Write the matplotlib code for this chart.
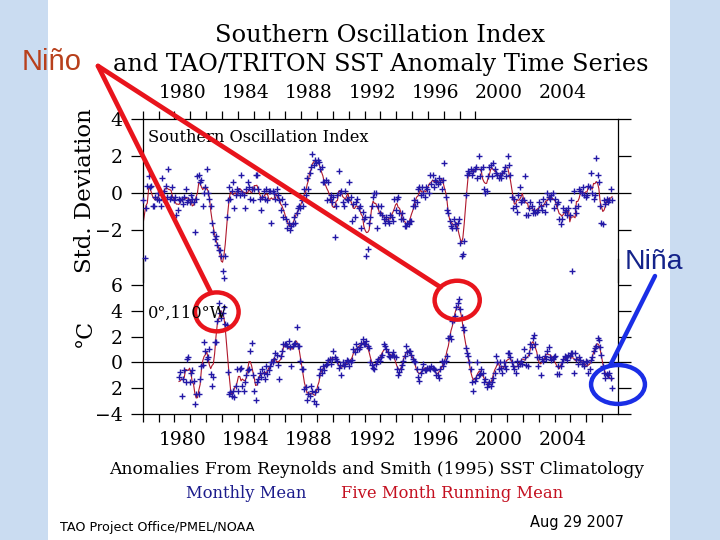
import numpy as np
import pandas as pd
import matplotlib
matplotlib.use('Agg')
import matplotlib.pyplot as plt
from matplotlib.patches import Ellipse, Rectangle, ConnectionPatch

# ---- data: monthly values ----
soi_start = 1978  # Jan 1978 .. Aug 2007, std. deviation
soi_by_year = [
    [-0.4, -3.5, -0.8, 0.4, 0.9, 0.3, 0.4, -0.7, -0.7, -0.2, -0.3, 0.0],     # 1978
    [-0.4, -0.7, 0.8, -0.3, 0.1, 0.4, -0.2, 1.3, -0.3, -0.2, 0.3, -0.4],     # 1979
    [-0.2, -1.2, -0.9, -0.3, -0.4, -0.3, -0.6, -0.2, 0.2, -0.5, -0.4, -0.5],  # 1980
    [-0.1, -0.3, -0.5, -2.1, -0.3, 0.9, 1.0, 0.6, 0.7, -0.7, 0.0, 0.3],      # 1981
    [1.3, 0.0, -0.3, -0.7, -1.6, -2.1, -2.5, -2.3, -2.8, -3.1, -3.1, -3.4],  # 1982
    [-4.2, -4.6, -3.4, -1.3, -0.4, 0.3, -0.3, 0.1, 0.6, -0.8, -0.1, 0.2],    # 1983
    [0.1, -0.1, 1.0, 0.0, -0.1, -0.8, 0.2, 0.6, 0.3, -0.3, 0.2, -0.4],       # 1984
    [0.2, 1.0, 1.0, 0.2, -0.3, -0.9, -0.2, 0.1, -0.3, 0.2, -0.4, 0.1],       # 1985
    [0.1, -1.6, 0.1, 0.0, -0.3, 0.2, -0.1, -0.4, -0.9, -0.3, -1.3, -0.6],    # 1986
    [-1.4, -1.9, -1.6, -2.0, -1.8, -1.7, -1.3, -1.6, -1.1, -0.8, -0.7, -0.8],  # 1987
    [-0.4, -0.7, 0.2, -0.1, 0.8, 0.2, 1.1, 1.4, 2.1, 1.5, 1.8, 1.6],         # 1988
    [1.8, 1.7, 1.3, 1.4, 0.6, 0.6, 0.7, -0.4, 0.6, -0.3, -0.1, -0.5],        # 1989
    [-0.2, -2.4, -0.7, -0.1, 1.2, 0.0, 0.1, -0.5, -0.7, 0.1, -0.3, -0.4],    # 1990
    [0.6, -0.2, -1.5, -0.6, -1.3, -0.5, -0.3, -0.8, -0.7, -1.9, -1.0, -1.4],  # 1991
    [-1.3, -3.4, -3.0, -1.6, -1.3, -0.7, -0.2, 0.0, 0.0, -1.9, -0.7, -1.1],   # 1992
    [-0.7, -1.2, -1.4, -1.6, -1.3, -1.5, -1.6, -1.2, -1.3, -1.5, -0.3, -0.9],  # 1993
    [-0.3, -0.2, -1.1, -1.4, -1.1, -1.4, -1.8, -1.8, -1.6, -1.7, -1.5, -1.5],  # 1994
    [-0.7, -0.4, -0.7, -0.5, 0.2, 0.3, -0.1, 0.3, 0.0, -0.2, 0.3, 0.2],      # 1995
    [0.0, 1.0, 0.5, 1.0, 0.3, 0.7, 0.6, 0.5, 0.8, 0.6, 0.2, 0.7],            # 1996
    [1.6, -0.2, -0.9, -1.1, -1.5, -1.8, -1.9, -1.4, -1.7, -1.9, -1.6, -1.4],  # 1997
    [-2.7, -3.4, -3.3, -2.6, -0.1, 1.0, 1.2, 1.1, 1.3, 1.0, 1.2, 1.3],       # 1998
    [1.4, 0.8, 2.0, 0.9, 1.3, 1.4, 0.2, 0.0, 0.1, 0.9, 1.4, 1.5],            # 1999
    [0.9, 1.6, 1.3, 1.1, 1.0, 0.8, 1.0, 0.8, 1.1, 1.2, 1.4, 0.9],            # 2000
    [2.0, 1.5, 1.0, -0.2, -0.8, -0.3, -0.7, -1.0, -0.1, 0.3, -0.5, -0.4],    # 2001
    [-0.4, 0.9, -1.2, -1.2, -0.8, -0.5, -0.7, -1.1, -0.9, -1.1, -1.0, -0.9],  # 2002
    [-0.5, -0.7, -0.9, -0.3, -1.0, -0.6, 0.0, -0.2, -0.3, -0.1, 0.0, -0.8],  # 2003
    [-0.3, -0.6, -0.5, -1.4, -1.7, -1.4, -0.8, -1.0, -0.9, -1.2, -0.8, -1.2],  # 2004
    [-0.4, -4.2, 0.1, -0.8, -1.1, -0.7, 0.2, 0.1, 0.0, 0.3, -0.1, -0.2],     # 2005
    [-0.1, 0.4, 0.3, 1.1, 0.0, -0.3, -0.1, 1.9, 1.0, 0.6, -0.7, -1.6],       # 2006
    [-1.7, -0.4, -0.6, -0.3, -0.5, -0.4, 0.2, -0.4],                         # 2007
]

sst_start = 1980 + 3 / 12  # Apr 1980 .. Aug 2007, deg C at 0N 110W
sst_by_year = [
    [-1.1, -0.7, -2.6, -1.3, -0.6, -1.5, 0.3, 0.4, -1.5],                    # 1980
    [-0.8, -0.6, -1.4, -3.2, -2.4, -4.3, -2.4, -1.3, -0.3, -0.2, 1.6, 0.9],  # 1981
    [0.3, 0.4, 1.0, -0.9, -1.8, -1.1, 1.6, 1.6, 3.2, 4.6, 3.8, 3.4],         # 1982
    [3.8, 4.3, 3.0, 2.9, -0.7, -2.4, -2.3, -2.6, -2.2, -2.7, -1.8, -0.5],    # 1983
    [-2.2, -0.5, -0.4, -1.8, -2.2, -1.5, -1.0, -0.6, -0.5, 0.9, 1.5, -1.0],  # 1984
    [-2.2, -2.9, -1.5, -1.3, -0.8, -1.1, -0.5, -0.8, -1.3, -0.3, -0.9, -0.6],  # 1985
    [-0.3, 0.0, 0.0, 0.3, 0.75, 0.6, -0.2, -1.3, 0.5, 0.9, 1.4, 1.4],        # 1986
    [1.4, 1.3, 1.65, 1.2, -0.25, 1.3, 1.4, 1.5, 2.7, 1.3, 1.3, 0.1],         # 1987
    [-0.5, -0.5, -2.05, -1.9, -2.9, -2.4, -2.6, -1.8, -2.2, -2.95, -2.3, -3.2],  # 1988
    [-2.05, -1.0, -0.5, -0.8, -0.3, -0.6, -0.2, -0.1, 0.2, 0.3, -0.1, 0.3],  # 1989
    [0.9, 0.4, 0.25, 0.1, -0.4, -0.2, -1.0, 0.0, -0.3, -0.1, 0.2, 0.1],      # 1990
    [-0.25, 0.0, 0.2, 1.0, 0.8, 1.4, 1.0, 1.0, 1.2, 1.5, 1.8, 1.4],          # 1991
    [1.4, 1.65, 1.3, 1.15, 0.0, -0.2, -0.4, -0.5, -0.1, 0.1, 0.3, 0.1],      # 1992
    [0.4, 0.6, 1.4, 1.3, 1.0, 0.8, 0.5, 0.4, 0.6, 0.8, 0.5, 0.4],            # 1993
    [-0.5, -1.0, -0.7, -0.5, -0.2, 0.1, 0.5, 1.3, 0.8, 0.9, 0.9, 0.6],       # 1994
    [0.3, 0.1, 0.0, -0.5, -1.15, -1.4, -0.8, -0.5, -0.1, -0.6, -0.6, -0.4],  # 1995
    [-0.4, -0.5, -0.3, -0.4, -0.5, -0.6, -1.0, -1.0, -1.2, -0.5, 0.1, -0.3],  # 1996
    [0.0, 0.1, 0.5, 1.9, 2.05, 1.8, 3.2, 3.3, 3.6, 4.3, 4.6, 4.9],           # 1997
    [4.1, 3.5, 2.7, 2.5, 1.15, 0.7, 0.5, 0.0, -0.5, -1.5, -2.2, -1.4],       # 1998
    [-1.2, 0.0, -1.0, -0.9, -0.5, -0.8, -1.5, -1.3, -1.9, -1.65, -1.5, -1.8],  # 1999
    [-1.5, -1.2, -0.8, 0.5, 0.0, -0.5, 0.0, -0.4, -0.8, 0.0, -0.3, -0.5],    # 2000
    [0.75, 0.7, 0.4, 0.0, -0.25, -0.5, -0.8, 0.1, -0.3, -0.1, 0.1, -0.1],    # 2001
    [1.0, 0.4, -0.2, -0.25, 0.75, 1.4, 1.2, 1.9, 2.1, 1.4, 0.4, -0.3],       # 2002
    [0.4, -1.0, 0.25, 0.1, 0.5, 0.3, 0.9, 1.2, 0.4, 0.2, 0.25, 0.4],         # 2003
    [0.5, -0.9, -0.3, -0.9, -0.3, 0.0, 0.3, 0.5, 0.4, 0.2, 0.6, 0.5],        # 2004
    [0.7, 0.7, -0.8, 0.7, 0.3, -0.1, 0.4, 0.2, -0.1, 0.0, -0.3, 0.1],        # 2005
    [0.0, -0.8, -0.5, 0.2, 0.4, 0.9, 1.1, 1.3, 1.9, 1.7, 1.2, 0.6],          # 2006
    [-0.3, -0.8, -1.2, -0.9, -1.0, -0.8, -1.2, -2.0],                        # 2007
]

label_years = [1980, 1984, 1988, 1992, 1996, 2000, 2004]
soi_ticks = [4, 2, 0, -2]
soi_ticklabels = ['4', '2', '0', '\u22122']
sst_ticks = [6, 4, 2, 0, -2, -4]
sst_ticklabels = ['6', '4', '2', '0', '2', '\u22124']

BLUE = '#2318a6'
RED = '#b0182c'
SERIF = 'DejaVu Serif'
W, H = 720, 540


def series(start, by_year):
    v = np.array([x for yr in by_year for x in yr])
    t = start + np.arange(len(v)) / 12 + 1 / 24
    run = pd.Series(v).rolling(5, center=True, min_periods=1).mean().values
    return t, v, run


def fx(x): return x / W
def fy(y): return 1 - y / H


soi_t, soi_v, soi_run = series(soi_start, soi_by_year)
sst_t, sst_v, sst_run = series(sst_start, sst_by_year)

fig = plt.figure(figsize=(7.2, 5.4), dpi=100)
fig.patch.set_facecolor('#cadcf1')
fig.add_artist(Rectangle((fx(48), 0), fx(670 - 48), 1, transform=fig.transFigure,
                         facecolor='white', edgecolor='none', zorder=-5))

left, right = fx(142.7), fx(618)
ax1 = fig.add_axes([left, fy(281.8), right - left, fy(119) - fy(281.8)])
ax2 = fig.add_axes([left, fy(414.3), right - left, fy(258.7) - fy(414.3)])

for ax in (ax1, ax2):
    ax.set_facecolor('none')
    ax.set_xlim(1978, 2008)
    for sp in ax.spines.values():
        sp.set_linewidth(0.9)
    ax.axhline(0, color='black', lw=0.9, zorder=1)
    ax.tick_params(axis='y', which='major', left=True, right=True, direction='out',
                   length=9, width=0.9, pad=5.5, labelsize=13.5)

# top panel: SOI
ax1.plot(soi_t, soi_run, color=RED, lw=0.8, zorder=2)
ax1.plot(soi_t, soi_v, ls='none', marker='+', ms=5, mew=1.0, color=BLUE, zorder=3,
         clip_on=False)
ax1.set_ylim(-4.8, 4)
ax1.spines['bottom'].set_visible(False)
ax1.set_yticks(soi_ticks, soi_ticklabels, family=SERIF)
ax1.xaxis.tick_top()
ax1.set_xticks(np.arange(1978, 2000), minor=True)
ax1.set_xticks([y + 0.5 for y in label_years], [str(y) for y in label_years], family=SERIF)
ax1.tick_params(axis='x', which='minor', top=True, bottom=False, direction='out',
                length=6, width=0.9)
ax1.tick_params(axis='x', which='major', top=True, bottom=False, length=0, pad=12,
                labelsize=13.5)

# bottom panel: SST anomaly
ax2.plot(sst_t, sst_run, color=RED, lw=0.8, zorder=2)
ax2.plot(sst_t, sst_v, ls='none', marker='+', ms=5, mew=1.0, color=BLUE, zorder=3)
ax2.set_ylim(-4, 8)
ax2.spines['top'].set_visible(False)
ax2.set_yticks(sst_ticks, sst_ticklabels, family=SERIF)
ax2.set_xticks(np.arange(1978, 2008), minor=True)
ax2.set_xticks([y + 0.5 for y in label_years], [str(y) for y in label_years], family=SERIF)
ax2.tick_params(axis='x', which='minor', bottom=True, direction='out', length=6, width=0.9)
ax2.tick_params(axis='x', which='major', length=0, pad=12, labelsize=13.5)

# titles and labels
fig.text(fx(380), fy(35), 'Southern Oscillation Index', ha='center', va='center',
         family=SERIF, fontsize=17.5)
fig.text(fx(381), fy(64), 'and TAO/TRITON SST Anomaly Time Series', ha='center',
         va='center', family=SERIF, fontsize=17.3)
fig.text(fx(85), fy(191), 'Std. Deviation', rotation=90, ha='center', va='center',
         family=SERIF, fontsize=16.5)
fig.text(fx(85), fy(333), '\u00b0C', rotation=90, ha='center', va='center',
         family=SERIF, fontsize=16)
fig.text(fx(148), fy(137), 'Southern Oscillation Index', ha='left', va='center',
         family=SERIF, fontsize=11.7)
fig.text(fx(148), fy(313), '0\u00b0,110\u00b0W', ha='left', va='center',
         family=SERIF, fontsize=11.7)
fig.text(fx(377), fy(469), 'Anomalies From Reynolds and Smith (1995) SST Climatology',
         ha='center', va='center', family=SERIF, fontsize=12.3)
fig.text(fx(246), fy(493), 'Monthly Mean', ha='center', va='center', family=SERIF,
         fontsize=11.8, color='#1c1c8c')
fig.text(fx(452), fy(493), 'Five Month Running Mean', ha='center', va='center',
         family=SERIF, fontsize=11.8, color='#c41020')
fig.text(fx(60), fy(527), 'TAO Project Office/PMEL/NOAA', ha='left', va='center',
         family='DejaVu Sans', fontsize=9.2)
fig.text(fx(530), fy(523), 'Aug 29 2007', ha='left', va='center',
         family='DejaVu Sans', fontsize=10.5)

# slide annotations
fig.text(fx(22), fy(62), 'Ni\u00f1o', ha='left', va='center', family='Liberation Sans',
         fontsize=21, color='#b8401c')
fig.text(fx(625), fy(262), 'Ni\u00f1a', ha='left', va='center', family='Liberation Sans',
         fontsize=20.5, color='#14238a')

RED_ANN = '#e8141c'
BLUE_ANN = '#1a2ee6'
ax2.add_patch(Ellipse((1982.68, 3.9), 2.75, 3.0, fill=False, ec=RED_ANN, lw=3.2,
                      clip_on=False, zorder=6))
ax2.add_patch(Ellipse((1997.85, 4.8), 2.85, 3.0, fill=False, ec=RED_ANN, lw=3.2,
                      clip_on=False, zorder=6))
ax2.add_patch(Ellipse((2008.0, -1.7), 3.4, 3.0, fill=False, ec=BLUE_ANN, lw=3.2,
                      clip_on=False, zorder=6))
for xy in [(1982.3, 5.4), (1996.8, 5.8)]:
    fig.add_artist(ConnectionPatch((fx(98), fy(66)), xy, coordsA=fig.transFigure,
                                   coordsB=ax2.transData, color=RED_ANN, lw=3.4, zorder=7))
fig.add_artist(ConnectionPatch((fx(655), fy(276)), (2007.5, -0.25), coordsA=fig.transFigure,
                               coordsB=ax2.transData, color=BLUE_ANN, lw=3.2, zorder=7))

fig.savefig('out.png', dpi=100)
